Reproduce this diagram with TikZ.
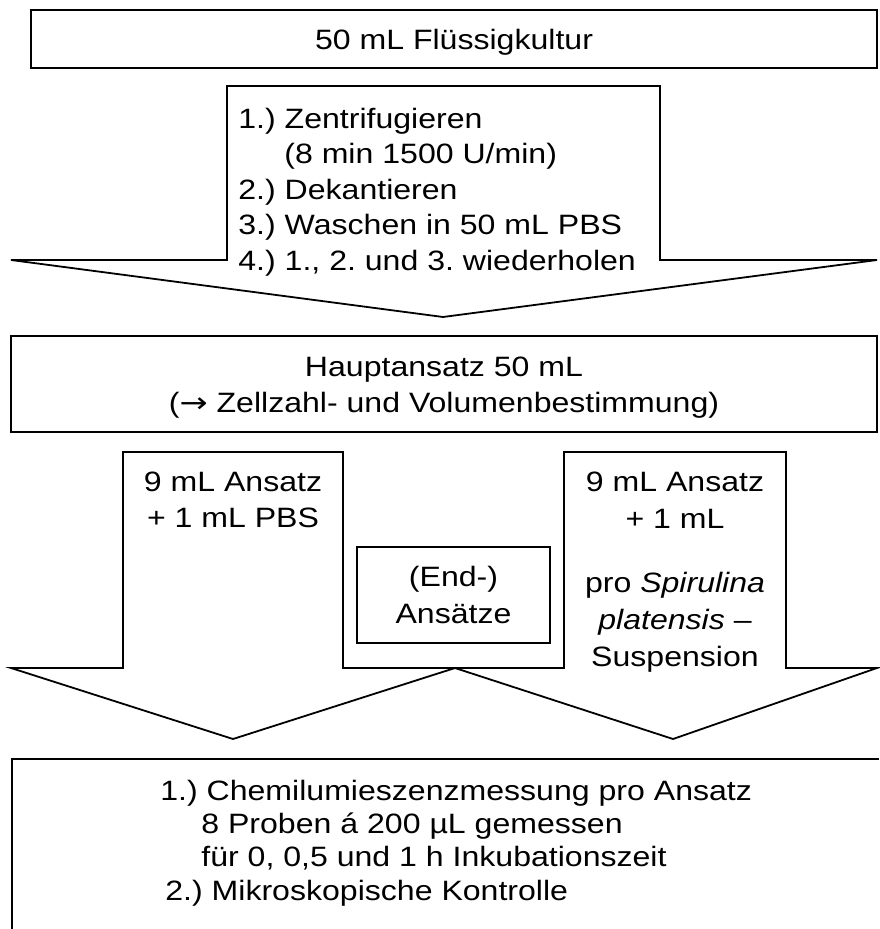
\documentclass[tikz,border=0pt]{standalone}
\usepackage{fontspec}
\setmainfont{Liberation Sans}[FakeStretch=1.145]
\newfontfamily\arrowfont{DejaVu Sans}[FakeStretch=1.2]
\usepackage{tikz}
\usetikzlibrary{positioning}
\frenchspacing

\begin{document}
\begin{tikzpicture}[x=0.5pt, y=-0.5pt,
    every node/.style={font=\fontsize{14}{18}\selectfont, inner sep=0pt},
    box/.style={draw, line width=0.9pt, fill=white},
    blockarrow/.style={draw, line width=0.9pt, fill=white, line join=miter}]
  \useasboundingbox (0,0) rectangle (879,929);

  % start culture
  \node[box, minimum width=423pt, minimum height=29pt, text height=14pt, text depth=3pt] (culture) at (454,39)
    {50 mL Flüssigkultur};

  % washing arrow
  \draw[blockarrow] (227,86) -- (660,86) -- (660,260) -- (877,260) -- (443,317)
    -- (11,260) -- (227,260) -- cycle;
  \node[anchor=north west, align=left, font=\fontsize{14}{17.75}\selectfont] (wash) at (238,107.5)
    {1.) Zentrifugieren\\\hspace*{23pt}(8 min 1500 U/min)\\2.) Dekantieren\\3.) Waschen in 50 mL PBS\\4.) 1., 2. und 3. wiederholen};

  % main batch
  \node[box, minimum width=433pt, minimum height=48pt] (main) at (444,384) {};
  \node[anchor=north, align=center] (mainlbl) at (444,356.5)
    {Hauptansatz 50 mL\\({\arrowfont →} Zellzahl- und Volumenbestimmung)};

  % two arrows: control and sample
  \draw[blockarrow] (123,452) -- (343,452) -- (343,668) -- (455,668) -- (233,739)
    -- (11,668) -- (123,668) -- cycle;
  \draw[blockarrow] (564,452) -- (786,452) -- (786,668) -- (877,668) -- (673,739)
    -- (455,668) -- (564,668) -- cycle;
  \node[anchor=north, align=center] (control) at (233,472) {9 mL Ansatz\\+ 1 mL PBS};
  \node[anchor=north, align=center, font=\fontsize{14}{18.5}\selectfont] (sample) at (675,472)
    {9 mL Ansatz\\+ 1 mL\\[13.5pt]pro \textit{Spirulina}\\\textit{platensis} –\\Suspension};
  \node[box, align=center, minimum width=96.5pt, minimum height=48pt, font=\fontsize{14}{18.5}\selectfont] (batches) at (453.5,595)
    {(End-)\\Ansätze};

  % measurement, box runs off the page
  \draw[line width=0.9pt] (12,929) -- (12,759) -- (879,759);
  \node[anchor=north west, align=left, font=\fontsize{14}{16.7}\selectfont] (measure) at (160,779.5)
    {1.) Chemilumieszenzmessung pro Ansatz\\\hspace*{20.5pt}8 Proben á 200 µL gemessen\\\hspace*{20.5pt}für 0, 0,5 und 1 h Inkubationszeit\\\hspace*{2.5pt}2.) Mikroskopische Kontrolle};
\end{tikzpicture}
\end{document}
